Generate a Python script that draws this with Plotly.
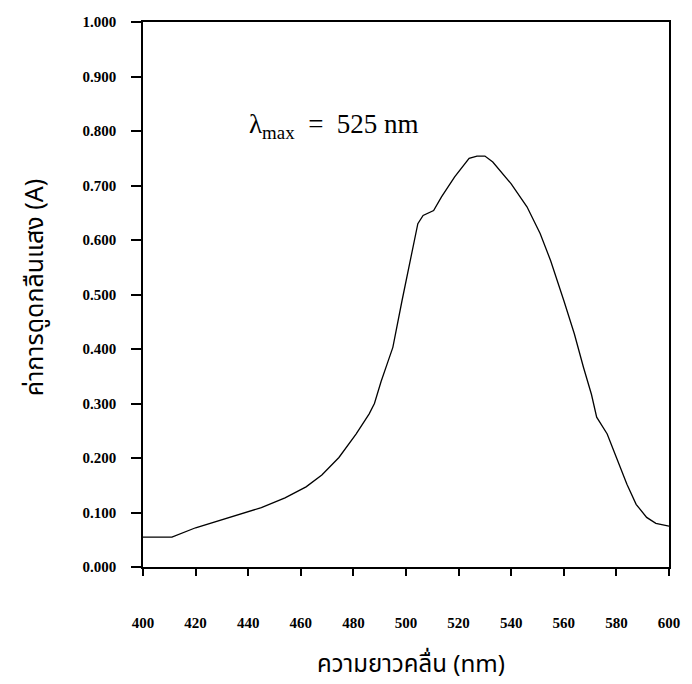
import plotly.graph_objects as go

wavelength = [400, 411, 420, 433, 445, 454, 462, 468, 474.5, 481, 486, 488, 490.5,
              493, 495, 498.5, 502, 504.5, 506.5, 510.5, 513.5, 518.5, 524, 527, 530, 533,
              540, 546, 551, 555, 560, 564, 567.5, 570.5, 572.5, 576.5, 580, 584,
              587.5, 591.5, 595, 600]
absorbance = [0.055, 0.055, 0.072, 0.091, 0.109, 0.127, 0.147, 0.169, 0.201, 0.244,
              0.281, 0.300, 0.340, 0.375, 0.403, 0.489, 0.569, 0.630, 0.645, 0.654, 0.679,
              0.716, 0.750, 0.754, 0.754, 0.743, 0.703, 0.661, 0.612, 0.562, 0.489,
              0.428, 0.366, 0.317, 0.275, 0.244, 0.201, 0.152, 0.115, 0.091, 0.080,
              0.075]
x_ticks = [400, 420, 440, 460, 480, 500, 520, 540, 560, 580, 600]
y_ticks = [0.0, 0.1, 0.2, 0.3, 0.4, 0.5, 0.6, 0.7, 0.8, 0.9, 1.0]

x_title = "ความยาวคลื่น (nm)"
y_title = "ค่าการดูดกลืนแสง (A)"
peak_label = "λ<sub>max</sub>&nbsp;&nbsp;=&nbsp;&nbsp;525 nm"

serif = "Liberation Serif, Times New Roman, serif"
thai = "Noto Sans Thai, Tlwg Typo, Garuda, Loma, Liberation Serif, serif"

fig = go.Figure()
fig.add_trace(go.Scatter(x=wavelength, y=absorbance, mode="lines",
                         line=dict(color="black", width=1.3), showlegend=False,
                         hoverinfo="skip"))

fig.update_layout(
    width=692, height=684,
    margin=dict(l=143, r=19, t=22, b=117),
    paper_bgcolor="white", plot_bgcolor="white",
    showlegend=False,
)
fig.update_xaxes(
    range=[400, 600], tickvals=x_ticks, ticktext=[str(v) for v in x_ticks],
    ticks="outside", ticklen=7, tickwidth=1.5, tickcolor="black",
    showline=True, linecolor="black", linewidth=1.5, mirror=True,
    showgrid=False, zeroline=False,
    tickfont=dict(family=serif, size=15, color="black", weight="bold"),
    ticklabelstandoff=34,
)
fig.update_yaxes(
    range=[0, 1], tickvals=y_ticks, ticktext=[f"{v:.3f}" for v in y_ticks],
    ticks="outside", ticklen=10, tickwidth=1.5, tickcolor="black",
    showline=True, linecolor="black", linewidth=1.5, mirror=True,
    showgrid=False, zeroline=False,
    tickfont=dict(family=serif, size=15, color="black", weight="bold"),
    ticklabelstandoff=12,
)

fig.add_annotation(x=439.5, y=0.81, xref="x", yref="y", text=peak_label,
                   showarrow=False, xanchor="left", yanchor="middle",
                   font=dict(family=serif, size=27, color="black"))
fig.add_annotation(x=0.509, y=-0.18, xref="paper", yref="paper", text=x_title,
                   showarrow=False, xanchor="center", yanchor="middle",
                   font=dict(family=thai, size=24, color="black"))
fig.add_annotation(x=-0.205, y=0.512, xref="paper", yref="paper", text=y_title,
                   showarrow=False, xanchor="center", yanchor="middle", textangle=-90,
                   font=dict(family=thai, size=25, color="black"))

fig.write_html("out.html")
